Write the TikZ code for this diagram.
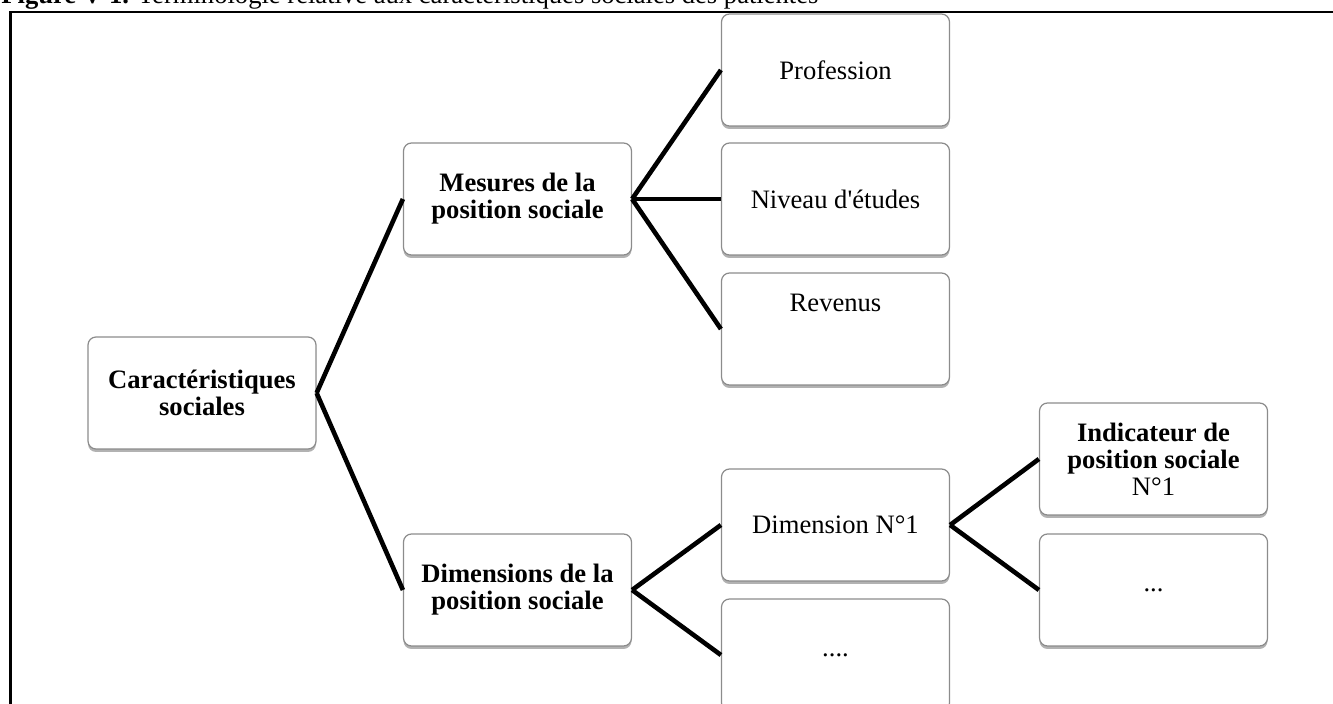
\documentclass[tikz,border=0pt]{standalone}
\usepackage{fontspec}
\setmainfont{Liberation Serif}
\usetikzlibrary{shadows}

\begin{document}
\begin{tikzpicture}[x=0.5pt, y=-0.5pt,
    boite/.style={draw=black!45, line width=0.6pt, fill=white, rounded corners=4pt,
        minimum width=114pt, minimum height=56pt, align=center, inner sep=2pt,
        font=\fontsize{13.3}{13.5}\selectfont,
        drop shadow={shadow xshift=0pt, shadow yshift=-1.5pt, opacity=0.3, fill=black}},
    gras/.style={boite, font=\fontsize{13.3}{13.5}\selectfont\bfseries},
    lien/.style={line width=2.3pt, black}]
    \useasboundingbox (0,0) rectangle (1333,704);
    % Titre (coupé en haut de la page)
    \node[anchor=base west, inner sep=0pt, font=\fontsize{13.3}{15}\selectfont] (titre) at (1,4)
        {\textbf{Figure V-1.} Terminologie relative aux caractéristiques sociales des patientes};
    % Cadre du tableau
    \draw[line width=1.3pt] (10.5,720) -- (10.5,12) -- (1345,12);
    % Niveau 1
    \node[gras] (carac) at (202,393) {Caractéristiques\\sociales};
    % Niveau 2
    \node[gras] (mesures) at (517.5,199) {Mesures de la\\position sociale};
    \node[gras] (dimensions) at (517.5,590) {Dimensions de la\\position sociale};
    % Niveau 3 : mesures
    \node[boite] (profession) at (835.5,70) {Profession};
    \node[boite] (etudes) at (835.5,199) {Niveau d\textquotesingle études};
    \node[boite] (revenus) at (835.5,329) {\raisebox{13pt}[\height][\depth]{Revenus}};
    % Niveau 3 : dimensions
    \node[boite] (dim1) at (835.5,525) {Dimension N°1};
    \node[boite] (dimautre) at (835.5,655) {....};
    % Niveau 4 : indicateurs
    \node[boite] (indic1) at (1153.5,459) {\textbf{Indicateur de}\\\textbf{position sociale}\\N°1};
    \node[boite] (indicautre) at (1153.5,590) {...};
    % Liens
    \draw[lien] (carac.east) -- (mesures.west);
    \draw[lien] (carac.east) -- (dimensions.west);
    \draw[lien] (mesures.east) -- (profession.west);
    \draw[lien] (mesures.east) -- (etudes.west);
    \draw[lien] (mesures.east) -- (revenus.west);
    \draw[lien] (dimensions.east) -- (dim1.west);
    \draw[lien] (dimensions.east) -- (dimautre.west);
    \draw[lien] (dim1.east) -- (indic1.west);
    \draw[lien] (dim1.east) -- (indicautre.west);
\end{tikzpicture}
\end{document}
